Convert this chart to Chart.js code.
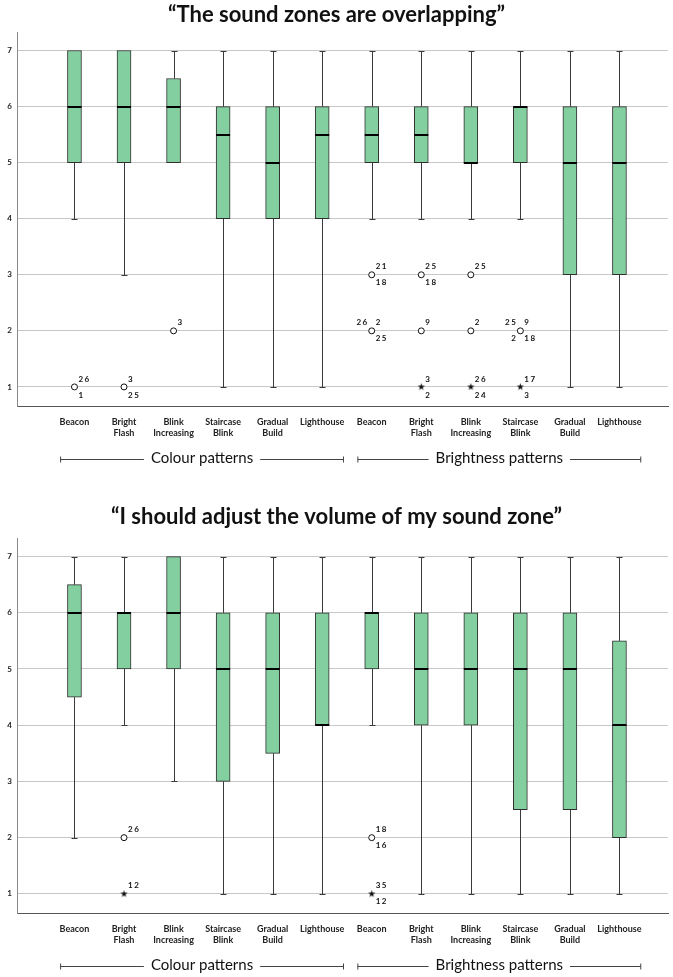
<!DOCTYPE html>
<html><head><meta charset="utf-8">
<script src="https://cdn.jsdelivr.net/npm/chart.js@4"></script>
<style>
html,body{margin:0;padding:0;background:#fff;width:673px;height:977px;overflow:hidden;}
.wrap{position:absolute;left:0;width:673px;}
</style></head><body>
<div class="wrap" style="top:0;height:490px"><canvas id="c1"></canvas></div>
<div class="wrap" style="top:500px;height:477px"><canvas id="c2"></canvas></div>
<script>
// ---------- data ----------
const categoryLabels = [['Beacon'],['Bright','Flash'],['Blink','Increasing'],['Staircase','Blink'],['Gradual','Build'],['Lighthouse'],
                        ['Beacon'],['Bright','Flash'],['Blink','Increasing'],['Staircase','Blink'],['Gradual','Build'],['Lighthouse']];
const yTicks = [1,2,3,4,5,6,7];
const groupNames = ['Colour patterns','Brightness patterns'];
const groupFirst = [1,7];
const groupLast = [6,12];

const overlapTitle = '“The sound zones are overlapping”';
const overlapLow    = [4,3,5,1,1,1,4,4,4,4,1,1];
const overlapQ1     = [5,5,5,4,4,4,5,5,5,5,3,3];
const overlapMedian = [6,6,6,5.5,5,5.5,5.5,5.5,5,6,5,5];
const overlapQ3     = [7,7,6.5,6,6,6,6,6,6,6,6,6];
const overlapHigh   = [7,7,7,7,7,7,7,7,7,7,7,7];
const overlapOutliers = [
  [1,1,'o',{ur:'26',lr:'1'}],
  [2,1,'o',{ur:'3',lr:'25'}],
  [3,2,'o',{ur:'3'}],
  [7,3,'o',{ur:'21',lr:'18'}],
  [7,2,'o',{ul:'26',ur:'2',lr:'25'}],
  [8,3,'o',{ur:'25',lr:'18'}],
  [8,2,'o',{ur:'9'}],
  [8,1,'*',{ur:'3',lr:'2'}],
  [9,3,'o',{ur:'25'}],
  [9,2,'o',{ur:'2'}],
  [9,1,'*',{ur:'26',lr:'24'}],
  [10,2,'o',{ul:'25',ur:'9',ll:'2',lr:'18'}],
  [10,1,'*',{ur:'17',lr:'3'}]
];

const volumeTitle = '“I should adjust the volume of my sound zone”';
const volumeLow    = [2,4,3,1,1,1,4,1,1,1,1,1];
const volumeQ1     = [4.5,5,5,3,3.5,4,5,4,4,2.5,2.5,2];
const volumeMedian = [6,6,6,5,5,4,6,5,5,5,5,4];
const volumeQ3     = [6.5,6,7,6,6,6,6,6,6,6,6,5.5];
const volumeHigh   = [7,7,7,7,7,7,7,7,7,7,7,7];
const volumeOutliers = [
  [2,2,'o',{ur:'26'}],
  [2,1,'*',{ur:'12'}],
  [7,2,'o',{ur:'18',lr:'16'}],
  [7,1,'*',{ur:'35',lr:'12'}]
];

// ---------- drawing ----------
const FONT = 'Lato, "Open Sans", "DejaVu Sans", sans-serif';

function makeStar(){
  const c = document.createElement('canvas'); c.width = 9; c.height = 9;
  const g = c.getContext('2d'); g.fillStyle = '#111'; g.beginPath();
  for (let k = 0; k < 10; k++) {
    const r = k % 2 ? 1.5 : 3.8, a = -Math.PI/2 + k*Math.PI/5;
    g.lineTo(4.5 + r*Math.cos(a), 4.5 + r*Math.sin(a));
  }
  g.closePath(); g.fill(); return c;
}
const starImg = makeStar();

function boxPlugin(st){
  return {
    id: 'boxExtras',
    beforeDatasetsDraw(chart){
      const {ctx, scales:{x, y}} = chart;
      ctx.save(); ctx.strokeStyle = '#3a3a3a'; ctx.lineWidth = 1;
      st.low.forEach((lo, i) => {
        const px = Math.round(x.getPixelForValue(i+1)) + 0.5;
        const segs = [[lo, st.q1[i]], [st.high[i], st.q3[i]]];
        segs.forEach(([w, b]) => {
          if (w === b) return;
          const yw = Math.round(y.getPixelForValue(w)) + 0.5, yb = y.getPixelForValue(b);
          ctx.beginPath(); ctx.moveTo(px, yw); ctx.lineTo(px, yb); ctx.stroke();
          ctx.beginPath(); ctx.moveTo(px - 3, yw); ctx.lineTo(px + 3, yw); ctx.stroke();
        });
      });
      ctx.restore();
    },
    afterDatasetsDraw(chart){
      const {ctx, chartArea:area, scales:{x, y}} = chart;
      ctx.save();
      // medians
      ctx.strokeStyle = '#000'; ctx.lineWidth = 2;
      st.median.forEach((m, i) => {
        const px = x.getPixelForValue(i+1), py = Math.round(y.getPixelForValue(m));
        ctx.beginPath(); ctx.moveTo(px - 7, py); ctx.lineTo(px + 7, py); ctx.stroke();
      });
      // outlier labels
      ctx.fillStyle = '#111'; ctx.font = 'bold 8px ' + FONT; ctx.textBaseline = 'middle';
      if ('letterSpacing' in ctx) ctx.letterSpacing = '1.5px';
      st.outliers.forEach(([c, v, , lab]) => {
        const px = x.getPixelForValue(c), py = y.getPixelForValue(v);
        if (lab.ur) { ctx.textAlign = 'left'; ctx.fillText(lab.ur, px + 4, py - 8); }
        if (lab.lr) { ctx.textAlign = 'left'; ctx.fillText(lab.lr, px + 4, py + 8); }
        if (lab.ul) { ctx.textAlign = 'right'; ctx.fillText(lab.ul, px - 3, py - 8); }
        if (lab.ll) { ctx.textAlign = 'right'; ctx.fillText(lab.ll, px - 3, py + 8); }
      });
      if ('letterSpacing' in ctx) ctx.letterSpacing = '0px';
      // group labels
      ctx.font = '15px ' + FONT; ctx.textAlign = 'center'; ctx.fillStyle = '#111';
      ctx.strokeStyle = '#444'; ctx.lineWidth = 1;
      groupNames.forEach((name, g) => {
        const x0 = x.getPixelForValue(groupFirst[g] - 0.28), x1 = x.getPixelForValue(groupLast[g] + 0.43);
        const yy = Math.round(area.bottom + 53) + 0.5;
        const w = ctx.measureText(name).width, mid = (x0 + x1) / 2, gap = 7;
        ctx.beginPath();
        ctx.moveTo(x0, yy); ctx.lineTo(mid - w/2 - gap, yy);
        ctx.moveTo(mid + w/2 + gap, yy); ctx.lineTo(x1, yy);
        ctx.moveTo(x0, yy - 3); ctx.lineTo(x0, yy + 3);
        ctx.moveTo(x1, yy - 3); ctx.lineTo(x1, yy + 3);
        ctx.stroke();
        ctx.fillText(name, mid, yy - 1);
      });
      ctx.restore();
    }
  };
}

function build(id, L, st){
  const circles = st.outliers.filter(o => o[2] === 'o').map(o => ({x:o[0], y:o[1]}));
  const stars = st.outliers.filter(o => o[2] === '*').map(o => ({x:o[0], y:o[1]}));
  return new Chart(document.getElementById(id), {
    type: 'bar',
    data: {
      datasets: [
        { type:'bar', data: st.q1.map((q, i) => ({x:i+1, y:[q, st.q3[i]]})),
          backgroundColor:'#83cf9f', borderColor:'#2e2e2e', borderWidth:1, borderSkipped:false,
          barThickness:14, order:2 },
        { type:'scatter', data: circles, pointStyle:'circle', radius:3, borderWidth:1,
          borderColor:'#111', backgroundColor:'#fff', order:1 },
        { type:'scatter', data: stars, pointStyle:starImg, radius:4, order:1 }
      ]
    },
    options: {
      responsive:true, maintainAspectRatio:false, animation:false, events:[],
      layout:{ padding:{ left:0, right:0, top:0, bottom:0 } },
      plugins:{
        legend:{ display:false }, tooltip:{ enabled:false },
        title:{ display:true, text:st.title, color:'#111',
          font:{ family:FONT, size:22, weight:'bold', lineHeight:1.2 },
          padding:{ top:L.titlePadTop, bottom:L.titlePadBottom } }
      },
      scales:{
        x:{ type:'linear', min:-0.16, max:12.98, offset:false,
          afterBuildTicks: s => { s.ticks = categoryLabels.map((_, i) => ({value:i+1})); },
          afterFit: s => { s.height = L.height - L.areaBottom; },
          grid:{ display:false, drawTicks:false },
          border:{ display:true, color:'#555', width:1 },
          ticks:{ autoSkip:false, maxRotation:0, minRotation:0, padding:11, color:'#222',
            font:{ family:FONT, size:9, weight:'bold', lineHeight:1.2 },
            callback: v => categoryLabels[Math.round(v) - 1] }
        },
        y:{ min:0.66, max:7.33,
          afterBuildTicks: s => { s.ticks = yTicks.map(v => ({value:v})); },
          afterFit: s => { s.width = 17; },
          grid:{ color:'#c8c8c8', drawTicks:false, lineWidth:1 },
          border:{ display:true, color:'#8a8a8a', width:1 },
          ticks:{ padding:5, color:'#222', font:{ family:FONT, size:8, weight:'bold' },
            callback: v => String(v) }
        }
      }
    },
    plugins:[ boxPlugin(st) ]
  });
}

build('c1', {height:490, areaBottom:406, titlePadTop:1.8, titlePadBottom:3.8},
  {title:overlapTitle, low:overlapLow, q1:overlapQ1, median:overlapMedian, q3:overlapQ3, high:overlapHigh, outliers:overlapOutliers});
build('c2', {height:477, areaBottom:413, titlePadTop:3.8, titlePadBottom:7.8},
  {title:volumeTitle, low:volumeLow, q1:volumeQ1, median:volumeMedian, q3:volumeQ3, high:volumeHigh, outliers:volumeOutliers});
</script>
</body></html>
